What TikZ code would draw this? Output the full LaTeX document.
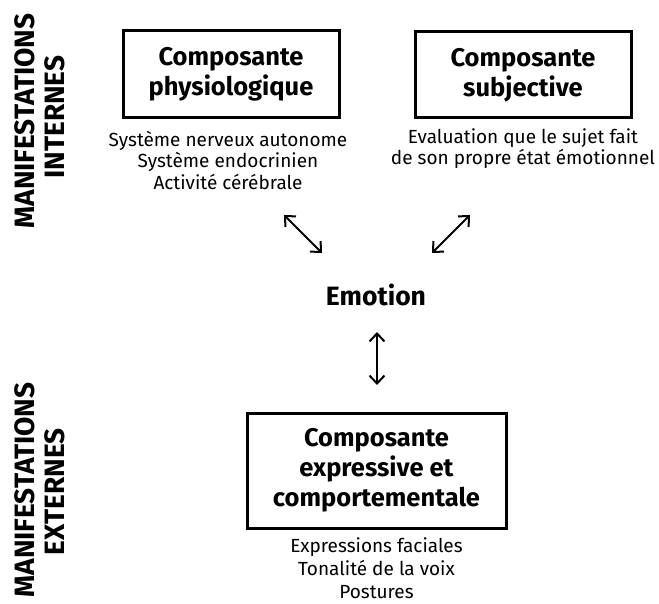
\documentclass[tikz,border=0pt]{standalone}
\usepackage{fontspec}
\setmainfont{Fira Sans}
\usetikzlibrary{arrows.meta}
\tikzset{
  compbox/.style={draw, line width=3pt, inner sep=0pt, align=center, font=\bfseries\fontsize{25.5}{30}\selectfont},
  desc/.style={align=center, inner sep=0pt, font=\fontsize{19}{21.5}\selectfont},
  side/.style={rotate=90, inner sep=0pt, font=\bfseries\fontsize{28}{28}\selectfont},
  dbl/.style={line width=2pt, {Straight Barb[length=8pt,width=15pt,line width=2pt]}-{Straight Barb[length=8pt,width=15pt,line width=2pt]}}
}
\begin{document}
\begin{tikzpicture}[x=1pt,y=-1pt]
\useasboundingbox (0,0) rectangle (659,604);
\node[compbox, minimum width=216pt, minimum height=87pt] (phys) at (231,74.5) {Composante\\physiologique};
\node[compbox, minimum width=216pt, minimum height=86pt] (subj) at (523,75) {Composante\\subjective};
\node[compbox, minimum width=259pt, minimum height=115pt] (expr) at (376.5,470.5) {Composante\\expressive et\\comportementale};
\node[desc] (physd) at (228,160.5) {Système nerveux autonome\\Système endocrinien\\Activité cérébrale};
\node[desc] (subjd) at (523,148.5) {Evaluation que le sujet fait\\de son propre état émotionnel};
\node[desc, font=\fontsize{19}{23}\selectfont] (exprd) at (376.5,568) {Expressions faciales\\Tonalité de la voix\\Postures};
\node[inner sep=0pt, font=\bfseries\fontsize{26.5}{26.5}\selectfont] (emo) at (376,295) {Emotion};
\node[side] (mi) at (25,121) {MANIFESTATIONS};
\node[side] (int) at (55,117) {INTERNES};
\node[side] (me) at (25,490) {MANIFESTATIONS};
\node[side] (ext) at (55,492) {EXTERNES};
\coordinate (a1) at (284,215); \coordinate (b1) at (322,253);
\coordinate (a2) at (470,215); \coordinate (b2) at (432,253);
\coordinate (a3) at (377,332); \coordinate (b3) at (377,385);
\draw[dbl] (a1) -- (b1);
\draw[dbl] (a2) -- (b2);
\draw[dbl] (a3) -- (b3);
\end{tikzpicture}
\end{document}
